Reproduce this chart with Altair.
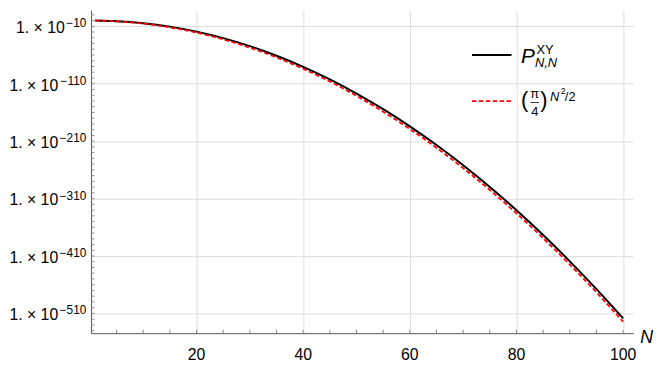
import altair as alt
import pandas as pd

# ---- data (log10 of the plotted values) ----
N = [1, 5, 10, 15, 20, 25, 30, 35, 40, 45, 50, 55, 60, 65, 70, 75, 80, 85, 90, 95, 100]
P_XY_log10 = [-0.05, -1.11, -4.55, -10.60, -19.28, -30.58, -44.61, -61.26, -80.53,
              -102.52, -127.14, -154.38, -184.24, -216.82, -252.03, -289.86,
              -330.31, -373.49, -419.29, -467.71, -518.75]
pi4_log10 = [-0.05, -1.31, -5.25, -11.80, -20.98, -32.78, -47.21, -64.26, -83.93,
             -106.22, -131.14, -158.68, -188.84, -221.62, -257.03, -295.06,
             -335.71, -378.99, -424.89, -473.41, -524.55]

y_major_exponents = [-10, -110, -210, -310, -410, -510]
y_minor_exponents = list(range(10, -541, -10))
x_major_ticks = [20, 40, 60, 80, 100]
x_minor_ticks = list(range(5, 101, 5))

FONT = "Liberation Sans"
AXIS_COLOR = "#555555"
GRID_COLOR = "#dddddd"

xscale = alt.Scale(domain=[0.2, 101.9], nice=False, zero=False)
yscale = alt.Scale(domain=[-544.4, 18.1], nice=False, zero=False)

df_black = pd.DataFrame({"N": N, "v": P_XY_log10})
df_red = pd.DataFrame({"N": N, "v": pi4_log10})

black = alt.Chart(df_black).mark_line(color="black", strokeWidth=2, interpolate="monotone").encode(
    x=alt.X("N:Q", scale=xscale,
            axis=alt.Axis(values=x_major_ticks, grid=True, gridColor=GRID_COLOR, labels=False,
                          ticks=False, domainColor=AXIS_COLOR, title=None)),
    y=alt.Y("v:Q", scale=yscale,
            axis=alt.Axis(values=y_major_exponents, grid=True, gridColor=GRID_COLOR, labels=False,
                          ticks=False, domainColor=AXIS_COLOR, title=None)),
)
red = alt.Chart(df_red).mark_line(color="#ff0000", strokeWidth=1.8, strokeDash=[4.5, 2.5],
                                  interpolate="monotone").encode(
    x=alt.X("N:Q", scale=xscale),
    y=alt.Y("v:Q", scale=yscale),
)

# inward ticks
yt = pd.DataFrame({"v": y_minor_exponents})
yticks = alt.Chart(yt).mark_rule(color="#888888", strokeWidth=1).encode(
    y=alt.Y("v:Q", scale=yscale), x=alt.value(0), x2=alt.value(3.5))
xt = pd.DataFrame({"N": x_minor_ticks})
xticks = alt.Chart(xt).mark_rule(color="#888888", strokeWidth=1).encode(
    x=alt.X("N:Q", scale=xscale), y=alt.value(327), y2=alt.value(323.5))

# y tick labels: "1. × 10" with a superscript exponent
ylab = pd.DataFrame({"v": y_major_exponents,
                     "sup": ["\u2212" + str(-e) for e in y_major_exponents]})
ysup = alt.Chart(ylab).mark_text(align="right", baseline="alphabetic", fontSize=12, font=FONT,
                                 dy=1, color="black").encode(
    y=alt.Y("v:Q", scale=yscale), x=alt.value(-4.7), text="sup:N")
ybase = alt.Chart(ylab).transform_calculate(
    bx="-4.7 - 1.5 - 7.0 - 6.67 * (length(datum.sup) - 1)", base="'1. × 10'"
).mark_text(align="right", baseline="alphabetic", fontSize=16, font=FONT, dy=7,
            color="black").encode(
    y=alt.Y("v:Q", scale=yscale), x=alt.X("bx:Q", scale=None), text="base:N")

# x tick labels
xl = pd.DataFrame({"N": x_major_ticks, "lab": [str(v) for v in x_major_ticks]})
xlabels = alt.Chart(xl).mark_text(align="center", baseline="alphabetic", fontSize=16,
                                  font=FONT, color="black").encode(
    x=alt.X("N:Q", scale=xscale), y=alt.value(354), text="lab:N")

one = pd.DataFrame({"k": [0]})


def txt(s, x, y, size, italic=False, align="left"):
    return alt.Chart(one).mark_text(
        text=s, align=align, baseline="alphabetic", fontSize=size, font=FONT,
        fontStyle="italic" if italic else "normal", color="black"
    ).encode(x=alt.value(x), y=alt.value(y))


ntitle = txt("N", 556, 337, 18, italic=True)

# legend
leg_black = alt.Chart(one).mark_rule(color="black", strokeWidth=2).encode(
    x=alt.value(385.7), x2=alt.value(425.7), y=alt.value(45.3))
leg_red = alt.Chart(one).mark_rule(color="#ff0000", strokeWidth=1.8, strokeDash=[4.5, 2.5]).encode(
    x=alt.value(385.7), x2=alt.value(425.7), y=alt.value(92))
frac_bar = alt.Chart(one).mark_rule(color="black", strokeWidth=0.8).encode(
    x=alt.value(445), x2=alt.value(453.5), y=alt.value(93.5))

legend_texts = [
    txt("P", 435.3, 53, 21, italic=True),
    txt("XY", 451, 44.7, 13),
    txt("N,N", 449.5, 58, 13, italic=True),
    txt("(", 435.3, 98, 22),
    txt("π", 449.3, 89, 13, align="center"),
    txt("4", 449.3, 107, 13, align="center"),
    txt(")", 454.7, 98, 22),
    txt("N", 464.7, 92, 13, italic=True),
    txt("2", 475.7, 85.3, 9),
    txt("/2", 479.7, 92, 13),
]

chart = alt.layer(
    black, red, yticks, xticks, ysup, ybase, xlabels, ntitle,
    leg_black, leg_red, frac_bar, *legend_texts
).properties(
    width=549, height=327,
    padding={"left": 84, "top": 0, "right": 23, "bottom": 28},
    autosize=alt.AutoSizeParams(type="none"),
).configure_view(stroke=None)

chart.save("out.html", embed_options={"renderer": "svg", "actions": False})
